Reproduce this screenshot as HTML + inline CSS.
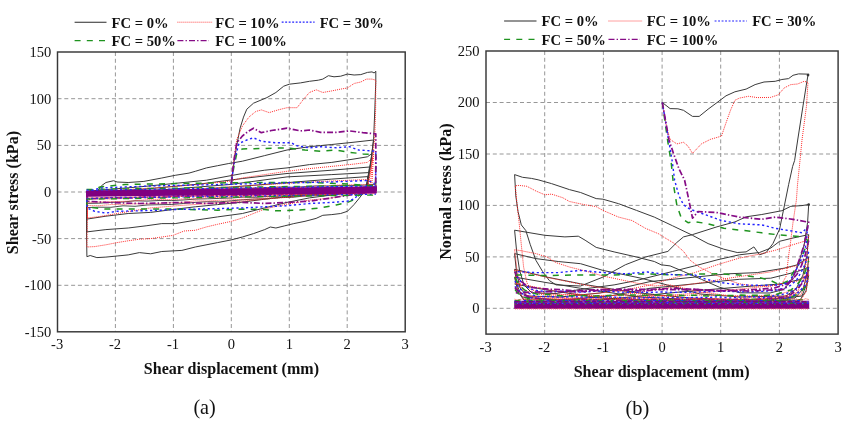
<!DOCTYPE html>
<html lang="en">
<head>
<meta charset="utf-8">
<title>Cyclic shear: shear stress and normal stress vs shear displacement</title>
<style>
html,body{margin:0;padding:0;background:#fff;}
body{width:852px;height:425px;overflow:hidden;}
svg{display:block;}
svg text{font-family:"Liberation Serif",serif;fill:#111;}
</style>
</head>
<body>
<svg width="852" height="425" viewBox="0 0 852 425">
<rect x="0" y="0" width="852" height="425" fill="#ffffff"/>
<g stroke="#979797" stroke-width="1" stroke-dasharray="4 2.8" fill="none"><line x1="115.4" y1="52.0" x2="115.4" y2="331.8"/><line x1="173.4" y1="52.0" x2="173.4" y2="331.8"/><line x1="231.3" y1="52.0" x2="231.3" y2="331.8"/><line x1="289.3" y1="52.0" x2="289.3" y2="331.8"/><line x1="347.2" y1="52.0" x2="347.2" y2="331.8"/><line x1="57.5" y1="98.7" x2="405.2" y2="98.7"/><line x1="57.5" y1="145.4" x2="405.2" y2="145.4"/><line x1="57.5" y1="192.0" x2="405.2" y2="192.0"/><line x1="57.5" y1="238.6" x2="405.2" y2="238.6"/><line x1="57.5" y1="285.3" x2="405.2" y2="285.3"/></g>
<polyline fill="none" stroke-linejoin="round" stroke="#3a3a3a" stroke-width="0.9" points="376.0,190.3 363.9,191.7 351.9,193.4 339.9,193.7 327.8,195.1 315.8,195.7 303.7,196.1 291.6,197.4 279.6,197.6 267.6,198.8 255.5,199.0 243.5,199.7 231.4,200.8 219.3,201.9 207.3,201.7 195.2,202.4 183.2,203.5 171.2,204.5 159.1,204.7 147.0,205.0 135.0,206.3 123.0,205.8 110.9,207.3 98.9,207.2 86.8,207.6 86.8,193.5 98.9,193.2 110.9,193.3 123.0,192.0 135.0,192.1 147.0,191.7 159.1,191.0 171.2,190.8 183.2,189.8 195.2,189.4 207.3,189.2 219.3,189.4 231.4,188.7 243.5,188.2 255.5,188.2 267.6,187.6 279.6,187.1 291.6,187.3 303.7,186.8 315.8,185.9 327.8,186.0 339.9,185.6 351.9,185.6 363.9,185.1 376.0,184.2 376.0,190.3"/>
<polyline fill="none" stroke-linejoin="round" stroke="#3a3a3a" stroke-width="0.9" points="376.0,191.1 363.9,191.2 351.9,192.3 339.9,193.3 327.8,193.2 315.8,194.2 303.7,194.2 291.6,195.5 279.6,196.2 267.6,196.4 255.5,197.3 243.5,197.1 231.4,198.0 219.3,198.4 207.3,198.8 195.2,199.1 183.2,200.0 171.2,200.6 159.1,200.5 147.0,201.1 135.0,200.8 123.0,202.0 110.9,202.4 98.9,203.2 86.8,203.4 86.8,193.7 98.9,193.4 110.9,193.4 123.0,192.2 135.0,192.4 147.0,191.7 159.1,191.3 171.2,191.0 183.2,191.5 195.2,190.4 207.3,190.3 219.3,190.1 231.4,190.4 243.5,189.2 255.5,189.3 267.6,189.1 279.6,189.2 291.6,188.9 303.7,188.6 315.8,187.6 327.8,187.5 339.9,187.2 351.9,187.5 363.9,187.3 376.0,186.1 376.0,191.1"/>
<polyline fill="none" stroke-linejoin="round" stroke="#ff2a2a" stroke-width="0.9" stroke-dasharray="1 1" points="376.0,190.1 363.9,191.6 351.9,192.6 339.9,193.7 327.8,194.6 315.8,194.9 303.7,195.3 291.6,196.5 279.6,197.1 267.6,197.9 255.5,199.0 243.5,199.3 231.4,199.7 219.3,200.3 207.3,201.0 195.2,200.8 183.2,202.3 171.2,202.7 159.1,203.4 147.0,203.8 135.0,203.8 123.0,204.4 110.9,204.5 98.9,205.7 86.8,205.5 86.8,193.5 98.9,193.0 110.9,192.5 123.0,192.2 135.0,191.4 147.0,191.0 159.1,190.7 171.2,190.3 183.2,190.2 195.2,189.4 207.3,190.0 219.3,189.3 231.4,188.4 243.5,188.1 255.5,187.9 267.6,187.5 279.6,186.9 291.6,187.4 303.7,187.2 315.8,186.2 327.8,185.9 339.9,185.0 351.9,184.7 363.9,184.7 376.0,184.2 376.0,190.1"/>
<polyline fill="none" stroke-linejoin="round" stroke="#ff2a2a" stroke-width="0.9" stroke-dasharray="1 1" points="376.0,190.9 363.9,191.1 351.9,191.6 339.9,193.3 327.8,193.4 315.8,193.5 303.7,194.5 291.6,194.3 279.6,195.4 267.6,196.4 255.5,196.7 243.5,197.0 231.4,196.9 219.3,197.4 207.3,197.6 195.2,198.8 183.2,198.9 171.2,199.6 159.1,199.5 147.0,199.7 135.0,200.8 123.0,201.4 110.9,201.7 98.9,202.0 86.8,202.4 86.8,194.3 98.9,193.2 110.9,193.2 123.0,192.6 135.0,191.9 147.0,191.6 159.1,191.5 171.2,191.2 183.2,191.4 195.2,191.4 207.3,190.5 219.3,190.8 231.4,190.5 243.5,190.2 255.5,189.2 267.6,188.7 279.6,188.4 291.6,188.1 303.7,187.8 315.8,188.1 327.8,188.1 339.9,187.8 351.9,187.0 363.9,187.0 376.0,186.9 376.0,190.9"/>
<polyline fill="none" stroke-linejoin="round" stroke="#ff2a2a" stroke-width="0.9" stroke-dasharray="1 1" points="376.0,190.0 363.9,191.4 351.9,192.2 339.9,192.4 327.8,192.8 315.8,192.9 303.7,192.9 291.6,194.0 279.6,193.8 267.6,194.7 255.5,195.2 243.5,194.9 231.4,195.2 219.3,196.2 207.3,196.2 195.2,195.9 183.2,196.2 171.2,196.5 159.1,197.7 147.0,197.9 135.0,197.4 123.0,198.5 110.9,199.0 98.9,198.9 86.8,198.8 86.8,194.1 98.9,193.2 110.9,192.7 123.0,193.6 135.0,192.9 147.0,192.4 159.1,192.7 171.2,191.8 183.2,192.0 195.2,191.7 207.3,190.7 219.3,190.5 231.4,190.3 243.5,190.0 255.5,190.1 267.6,189.5 279.6,189.4 291.6,188.8 303.7,189.5 315.8,188.6 327.8,188.4 339.9,188.3 351.9,188.5 363.9,187.7 376.0,188.0 376.0,190.0"/>
<polyline fill="none" stroke-linejoin="round" stroke="#2222ff" stroke-width="1.2" stroke-dasharray="2.2 2.6" points="376.0,190.5 363.9,191.1 351.9,191.5 339.9,191.3 327.8,192.2 315.8,192.2 303.7,192.3 291.6,193.6 279.6,193.1 267.6,193.8 255.5,194.4 243.5,194.5 231.4,194.5 219.3,195.0 207.3,195.4 195.2,195.9 183.2,195.4 171.2,196.2 159.1,196.1 147.0,196.4 135.0,197.3 123.0,197.2 110.9,197.5 98.9,198.0 86.8,198.5 86.8,193.9 98.9,193.7 110.9,193.2 123.0,192.8 135.0,192.7 147.0,192.1 159.1,191.8 171.2,191.5 183.2,191.7 195.2,191.1 207.3,191.0 219.3,190.8 231.4,189.7 243.5,189.7 255.5,189.9 267.6,189.5 279.6,188.3 291.6,188.0 303.7,188.1 315.8,187.4 327.8,187.3 339.9,186.8 351.9,187.3 363.9,187.1 376.0,187.0 376.0,190.5"/>
<polyline fill="none" stroke-linejoin="round" stroke="#860c86" stroke-width="1.5" stroke-dasharray="6 2.1 1.4 2.1" points="376.0,190.1 363.9,191.4 351.9,191.9 339.9,191.7 327.8,193.0 315.8,193.5 303.7,192.9 291.6,194.2 279.6,193.9 267.6,194.3 255.5,195.3 243.5,195.4 231.4,194.9 219.3,195.6 207.3,196.0 195.2,196.1 183.2,196.2 171.2,196.7 159.1,197.5 147.0,196.9 135.0,197.9 123.0,198.0 110.9,197.8 98.9,198.5 86.8,199.1 86.8,194.0 98.9,193.1 110.9,193.9 123.0,193.3 135.0,193.3 147.0,191.9 159.1,191.9 171.2,191.3 183.2,191.9 195.2,191.0 207.3,190.6 219.3,190.7 231.4,191.0 243.5,190.6 255.5,189.7 267.6,189.3 279.6,190.0 291.6,189.3 303.7,189.2 315.8,188.2 327.8,188.0 339.9,188.5 351.9,187.9 363.9,187.2 376.0,188.0 376.0,190.1"/>
<polyline fill="none" stroke-linejoin="round" stroke="#3a3a3a" stroke-width="1" points="363.0,193.4 358.6,199.0 354.0,204.6 347.4,211.3 340.7,213.5 331.8,214.6 322.8,215.3 316.1,218.4 305.0,221.3 293.8,223.6 284.8,225.8 275.9,228.0 270.3,227.0 264.7,229.6 253.5,233.6 242.4,237.0 231.2,239.9 217.6,242.6 195.3,247.0 181.9,250.4 161.8,251.5 150.6,253.8 139.4,252.6 128.2,254.9 117.1,256.0 105.9,257.1 96.9,257.6 90.2,255.5 86.9,256.7 86.5,230.0 86.5,192.0"/>
<polyline fill="none" stroke-linejoin="round" stroke="#3a3a3a" stroke-width="1" points="372.0,191.0 354.0,192.5 331.8,195.0 309.4,197.9 287.0,202.4 264.7,207.9 242.4,213.5 217.6,216.9 195.3,220.2 175.2,223.6 161.8,223.6 146.1,225.8 128.2,228.0 105.9,229.6 86.9,231.9 86.7,192.0"/>
<polyline fill="none" stroke-linejoin="round" stroke="#3a3a3a" stroke-width="1" points="372.0,191.0 340.0,193.0 300.0,195.5 270.0,198.5 240.0,202.4 217.6,204.6 195.3,206.8 172.9,209.5 150.6,212.4 128.2,213.5 105.9,216.2 86.9,219.1 86.9,192.0"/>
<polyline fill="none" stroke-linejoin="round" stroke="#3a3a3a" stroke-width="1" points="86.9,191.9 98.0,190.3 101.4,185.8 105.9,182.5 113.7,180.7 117.1,182.0 128.2,182.5 143.9,181.4 161.8,178.0 175.2,175.3 189.0,173.1 195.3,171.3 206.5,167.9 217.6,165.7 228.8,163.5 242.4,161.2 264.7,155.6 287.0,150.0 309.4,146.7 320.6,145.6 331.8,144.5 354.0,142.2 373.6,140.0 371.0,160.0 367.5,180.0 365.5,190.0"/>
<polyline fill="none" stroke-linejoin="round" stroke="#3a3a3a" stroke-width="1" points="86.9,192.0 105.9,189.6 139.4,186.9 172.9,183.6 206.5,180.2 242.4,173.5 264.7,170.2 287.0,167.9 309.4,164.6 331.8,162.4 354.0,159.0 367.4,156.8 372.2,153.4 370.0,168.0 367.6,181.0 366.0,190.0"/>
<polyline fill="none" stroke-linejoin="round" stroke="#3a3a3a" stroke-width="1" points="87.0,192.0 140.0,189.5 200.0,184.0 242.4,178.5 287.0,173.5 331.8,170.2 369.5,167.0 367.8,180.0 366.5,190.0"/>
<polyline fill="none" stroke-linejoin="round" stroke="#3a3a3a" stroke-width="1" points="87.0,192.5 160.0,190.0 230.0,184.5 287.0,176.9 331.8,174.6 368.6,172.6 367.5,182.0 366.5,190.0"/>
<polyline fill="none" stroke-linejoin="round" stroke="#3a3a3a" stroke-width="1" points="87.0,193.0 200.0,189.5 270.0,184.0 331.8,179.1 367.8,176.6 366.8,184.0 366.0,190.0"/>
<polyline fill="none" stroke-linejoin="round" stroke="#ff2a2a" stroke-width="1" stroke-dasharray="1 1" points="374.0,191.0 354.0,193.4 331.8,197.9 309.4,200.1 298.2,202.3 287.0,204.1 275.9,206.4 264.7,209.0 253.5,213.5 242.4,218.0 231.2,221.4 217.6,224.3 206.5,226.9 195.3,230.3 184.1,231.0 172.9,235.4 161.8,237.0 150.6,238.6 139.4,239.2 128.2,240.8 117.1,242.6 105.9,244.8 94.7,246.6 86.9,247.0 87.3,220.0 87.6,192.0"/>
<polyline fill="none" stroke-linejoin="round" stroke="#ff2a2a" stroke-width="1" stroke-dasharray="1 1" points="87.5,192.0 120.0,190.0 161.8,187.4 195.3,184.7 228.8,181.3 242.4,178.0 264.7,174.6 287.0,171.3 309.4,168.6 331.8,166.4 354.0,164.1 367.4,162.4 372.5,157.9 370.5,172.0 368.5,183.0 367.5,190.0"/>
<polyline fill="none" stroke-linejoin="round" stroke="#ff2a2a" stroke-width="1" stroke-dasharray="1 1" points="87.5,192.5 180.0,190.0 260.0,185.0 320.0,181.5 368.0,179.5 367.5,185.0 367.0,190.0"/>
<polyline fill="none" stroke-linejoin="round" stroke="#ff2a2a" stroke-width="1" stroke-dasharray="1 1" points="374.0,191.0 330.0,194.0 290.0,197.0 250.0,200.5 210.0,203.5 180.0,205.5 150.0,208.0 120.0,213.0 100.0,216.5 87.5,218.0 87.5,192.0"/>
<polyline fill="none" stroke-linejoin="round" stroke="#ff2a2a" stroke-width="1" stroke-dasharray="1 1" points="372.6,158.0 370.0,190.0"/>
<polyline fill="none" stroke-linejoin="round" stroke="#ff2a2a" stroke-width="1" stroke-dasharray="1 1" points="373.8,150.0 371.6,190.0"/>
<polyline fill="none" stroke-linejoin="round" stroke="#1f931f" stroke-width="1.5" stroke-dasharray="6 6.2" points="375.0,191.0 359.7,194.5 354.0,199.7 347.4,202.4 336.2,205.0 320.6,207.9 298.2,210.2 275.9,210.8 264.7,209.5 242.4,209.1 217.6,210.2 172.9,209.1 139.4,209.1 105.9,209.1 86.9,206.8 86.9,192.0"/>
<polyline fill="none" stroke-linejoin="round" stroke="#1f931f" stroke-width="1.5" stroke-dasharray="6 6.2" points="86.9,192.0 100.0,187.0 125.0,184.5 180.0,183.5 250.0,182.5 310.0,182.5 350.0,184.0 372.0,186.0 375.5,191.0"/>
<polyline fill="none" stroke-linejoin="round" stroke="#2222ff" stroke-width="1.4" stroke-dasharray="2.2 2.6" points="375.0,191.0 358.6,194.5 354.0,199.0 347.4,201.2 331.8,202.4 309.4,203.5 287.0,205.7 264.7,206.8 242.4,207.9 217.6,208.6 195.3,209.1 172.9,209.5 161.8,210.2 139.4,210.8 117.1,211.3 105.9,213.1 94.7,211.3 86.9,207.9 86.9,192.0"/>
<polyline fill="none" stroke-linejoin="round" stroke="#2222ff" stroke-width="1.4" stroke-dasharray="2.2 2.6" points="86.9,192.0 100.0,188.0 150.0,186.0 220.0,184.5 280.0,183.0 330.0,182.0 368.0,180.5 374.0,183.0 375.5,191.0"/>
<polyline fill="none" stroke-linejoin="round" stroke="#860c86" stroke-width="1.7" stroke-dasharray="6 2.1 1.4 2.1" points="375.0,191.0 354.0,194.5 343.0,196.1 331.8,197.9 309.4,201.2 287.0,202.4 264.7,203.5 242.4,202.4 206.5,203.5 184.1,202.4 161.8,203.0 139.4,203.5 105.9,202.4 86.9,201.2 86.9,192.0"/>
<polyline fill="none" stroke-linejoin="round" stroke="#3a3a3a" stroke-width="1" points="231.3,183.5 233.5,165.0 236.8,145.0 240.1,128.2 243.5,117.1 246.8,109.2 253.5,103.2 266.9,97.6 275.9,92.5 283.7,86.2 289.3,84.2 300.5,82.9 309.4,81.3 318.3,80.2 322.8,79.1 328.4,75.7 334.0,76.8 340.7,76.2 347.4,74.1 354.1,75.0 360.8,74.6 367.5,72.4 372.0,71.9 374.2,73.0 375.8,71.2 375.8,81.3 374.8,110.0 373.6,139.4 371.0,160.0 368.6,178.0 367.0,187.0 365.2,191.0 363.0,193.4"/>
<polyline fill="none" stroke-linejoin="round" stroke="#ff2a2a" stroke-width="1" stroke-dasharray="1 1" points="231.3,183.5 233.8,160.0 236.8,139.4 242.4,126.0 249.0,117.0 255.8,111.5 261.3,109.9 269.2,112.6 278.1,109.9 287.0,107.7 297.1,107.7 302.7,100.3 309.4,92.5 316.1,89.8 322.8,92.5 331.8,90.9 340.7,89.1 347.4,88.0 354.1,83.5 360.8,82.0 366.4,79.1 372.0,79.1 375.8,80.2 375.6,110.0 374.6,140.0 371.5,165.0 368.8,180.0 367.0,190.0"/>
<polyline fill="none" stroke-linejoin="round" stroke="#1f931f" stroke-width="1.5" stroke-dasharray="6 6.2" points="231.3,183.5 234.0,166.0 236.8,153.4 242.4,148.9 264.7,148.5 287.0,147.8 305.0,150.0 320.6,151.2 336.2,150.0 349.6,152.3 363.0,153.9 375.8,154.5 375.8,175.0 375.4,191.0"/>
<polyline fill="none" stroke-linejoin="round" stroke="#2222ff" stroke-width="1.4" stroke-dasharray="2.2 2.6" points="231.3,183.5 234.5,160.0 239.0,143.4 246.8,140.0 253.5,137.8 261.3,141.2 275.9,142.8 291.5,142.8 296.0,145.6 309.4,147.8 320.6,146.7 336.2,147.8 349.6,146.7 358.6,150.0 375.8,151.2 375.8,170.0 375.5,191.0"/>
<polyline fill="none" stroke-linejoin="round" stroke="#860c86" stroke-width="1.7" stroke-dasharray="6 2.1 1.4 2.1" points="231.3,183.5 234.0,160.0 236.8,142.8 242.4,136.0 247.9,131.6 253.5,128.2 261.3,132.7 271.4,130.5 287.0,128.2 300.5,130.9 309.4,130.0 320.6,132.3 336.2,132.3 349.6,130.9 363.0,132.7 375.8,133.8 375.8,160.0 375.6,191.0"/>
<polygon fill="#800080" points="86,190.6 376.6,186.4 376.6,193.2 86,196.8"/>
<polyline fill="none" stroke-linejoin="round" stroke="#1f931f" stroke-width="1.3" stroke-dasharray="6 6.2" points="86.5,189.4 376.0,185.2"/>
<polyline fill="none" stroke-linejoin="round" stroke="#2222ff" stroke-width="1.2" stroke-dasharray="2.2 2.6" points="86.5,190.2 376.0,186.0"/>
<polyline fill="none" stroke-linejoin="round" stroke="#ff2a2a" stroke-width="0.9" stroke-dasharray="1 1" points="86.5,197.8 376.0,193.6"/>
<polyline fill="none" stroke-linejoin="round" stroke="#2222ff" stroke-width="1.2" stroke-dasharray="2.2 2.6" points="86.5,198.4 376.0,194.2"/>
<polyline fill="none" stroke-linejoin="round" stroke="#1f931f" stroke-width="1.3" stroke-dasharray="6 6.2" points="86.5,199.2 376.0,195.0"/>
<polygon fill="#800080" points="86,191.6 376.6,187.4 376.6,193.2 86,196.2"/>
<rect x="57.5" y="52.0" width="347.7" height="279.8" fill="none" stroke="#383838" stroke-width="1.45"/>
<text x="51.3" y="57.0" font-size="14.5" text-anchor="end">150</text>
<text x="51.3" y="103.6" font-size="14.5" text-anchor="end">100</text>
<text x="51.3" y="150.3" font-size="14.5" text-anchor="end">50</text>
<text x="51.3" y="196.9" font-size="14.5" text-anchor="end">0</text>
<text x="51.3" y="243.5" font-size="14.5" text-anchor="end">-50</text>
<text x="51.3" y="290.2" font-size="14.5" text-anchor="end">-100</text>
<text x="51.3" y="336.8" font-size="14.5" text-anchor="end">-150</text>
<text x="57.1" y="349.2" font-size="14.5" text-anchor="middle">-3</text>
<text x="115.0" y="349.2" font-size="14.5" text-anchor="middle">-2</text>
<text x="173.0" y="349.2" font-size="14.5" text-anchor="middle">-1</text>
<text x="231.3" y="349.2" font-size="14.5" text-anchor="middle">0</text>
<text x="289.3" y="349.2" font-size="14.5" text-anchor="middle">1</text>
<text x="347.2" y="349.2" font-size="14.5" text-anchor="middle">2</text>
<text x="405.2" y="349.2" font-size="14.5" text-anchor="middle">3</text>
<text x="231.4" y="374.2" font-size="16.05" text-anchor="middle" font-weight="bold">Shear displacement (mm)</text>
<text x="204.6" y="413.9" font-size="20.2" text-anchor="middle">(a)</text>
<text font-size="16.05" font-weight="bold" text-anchor="middle" transform="translate(18.2,192.6) rotate(-90)">Shear stress (kPa)</text>
<line x1="74.6" y1="22.2" x2="106.5" y2="22.2" stroke="#2a2a2a" stroke-width="1.1"/>
<text x="111.6" y="27.5" font-size="14.6" text-anchor="start" font-weight="bold">FC = 0%</text>
<line x1="177.4" y1="22.2" x2="212.1" y2="22.2" stroke="#ff3030" stroke-width="0.9" stroke-dasharray="1 1"/>
<text x="215.3" y="27.5" font-size="14.6" text-anchor="start" font-weight="bold">FC = 10%</text>
<line x1="281.7" y1="22.2" x2="314.6" y2="22.2" stroke="#2222ff" stroke-width="1.2" stroke-dasharray="1.9 1.6"/>
<text x="319.7" y="27.5" font-size="14.6" text-anchor="start" font-weight="bold">FC = 30%</text>
<line x1="74.6" y1="40.6" x2="106.5" y2="40.6" stroke="#1f931f" stroke-width="1.4" stroke-dasharray="6 6.2"/>
<text x="111.6" y="45.9" font-size="14.6" text-anchor="start" font-weight="bold">FC = 50%</text>
<line x1="177.4" y1="40.6" x2="209.0" y2="40.6" stroke="#860c86" stroke-width="1.3" stroke-dasharray="6 2.1 1.4 2.1"/>
<text x="215.3" y="45.9" font-size="14.6" text-anchor="start" font-weight="bold">FC = 100%</text>
<g stroke="#979797" stroke-width="1" stroke-dasharray="4 2.8" fill="none"><line x1="544.7" y1="51.0" x2="544.7" y2="334.1"/><line x1="603.4" y1="51.0" x2="603.4" y2="334.1"/><line x1="662.1" y1="51.0" x2="662.1" y2="334.1"/><line x1="720.7" y1="51.0" x2="720.7" y2="334.1"/><line x1="779.4" y1="51.0" x2="779.4" y2="334.1"/><line x1="486.0" y1="102.5" x2="838.1" y2="102.5"/><line x1="486.0" y1="154.0" x2="838.1" y2="154.0"/><line x1="486.0" y1="205.4" x2="838.1" y2="205.4"/><line x1="486.0" y1="256.9" x2="838.1" y2="256.9"/><line x1="486.0" y1="308.3" x2="838.1" y2="308.3"/></g>
<polyline fill="none" stroke-linejoin="round" stroke="#3a3a3a" stroke-width="1" points="662.3,102.5 670.1,108.6 677.9,108.8 683.5,110.3 692.5,116.4 699.2,116.4 708.1,109.2 717.1,102.5 726.0,95.8 734.9,91.8 746.1,89.1 755.1,84.6 764.0,82.0 775.2,81.3 781.9,79.5 788.6,78.6 793.0,75.3 798.6,73.9 806.5,74.1 808.0,75.0 806.2,85.8 803.0,105.9 797.7,140.0 794.6,160.5 792.6,166.5 788.6,184.7 784.1,207.0 779.6,229.1 772.9,243.6 766.2,252.5 759.5,254.8 753.9,246.9 746.1,251.9 737.2,252.5 723.8,249.2 708.1,243.6 692.5,235.3 672.4,225.7 654.3,217.1 636.5,210.4 618.6,203.7 602.9,199.2 596.2,198.6 580.6,192.5 569.4,189.6 551.5,183.6 538.1,179.8 531.4,178.4 522.5,177.3 514.6,174.6 515.8,195.9 518.0,211.5 521.3,224.9 525.8,230.5 530.3,244.7 535.9,260.3 542.6,271.5 549.3,280.5 556.0,284.9 580.6,286.0 602.9,277.1 625.3,264.8 645.4,257.0 667.9,251.4 676.8,242.5 683.5,236.9 692.5,234.6 717.0,226.8 735.0,221.9 746.1,216.8 761.8,214.5 781.9,210.7 790.8,206.3 802.0,205.6 808.7,204.5 807.6,222.4 804.2,244.7 797.5,267.0 790.8,280.5 784.1,289.4 770.0,293.0 740.0,292.8 719.3,287.2 701.4,279.3 683.5,271.5 670.1,265.9 661.2,264.8 654.3,261.5 636.5,257.0 614.1,251.9 596.2,247.4 585.1,240.2 578.3,236.2 564.9,236.9 544.8,235.3 514.6,230.2"/>
<polyline fill="none" stroke-linejoin="round" stroke="#3a3a3a" stroke-width="1" points="514.6,230.2 516.5,250.0 519.5,270.0 524.0,285.0 532.0,293.0 556.0,293.5 580.6,289.4 614.1,284.9 636.5,280.5 650.0,277.1 672.4,271.5 694.7,265.9 717.0,259.9 739.4,254.8 759.5,252.5 770.7,248.1 779.6,241.3 793.0,238.0 808.7,234.6 807.0,255.0 803.0,275.0 796.0,289.0 786.0,296.0 740.0,297.0 700.0,294.0 658.8,282.7 640.9,278.2 625.3,274.9 602.9,270.4 580.6,263.7 558.2,261.5 535.9,258.6 514.6,253.6"/>
<polyline fill="none" stroke-linejoin="round" stroke="#3a3a3a" stroke-width="1" points="514.6,253.6 516.5,272.0 520.0,288.0 527.0,296.0 560.0,297.0 600.0,293.0 650.0,281.6 694.7,277.1 728.2,273.8 757.3,272.6 784.1,268.2 797.5,264.8 808.7,257.0 807.0,275.0 803.0,289.0 795.0,298.0 740.0,300.0 690.0,298.0 640.0,293.0 614.1,289.4 580.6,283.8 547.0,277.1 514.6,269.3"/>
<polyline fill="none" stroke-linejoin="round" stroke="#3a3a3a" stroke-width="1" points="514.6,269.3 517.0,285.0 522.0,297.0 560.0,300.0 610.0,296.0 650.0,288.3 694.7,283.8 739.4,279.3 770.7,278.2 784.1,274.9 797.5,271.5 808.7,267.0 807.0,283.0 802.0,296.0 760.0,301.0 700.0,300.0 640.0,297.0 580.6,288.3 547.0,282.7 514.6,277.1"/>
<polyline fill="none" stroke-linejoin="round" stroke="#3a3a3a" stroke-width="1" points="514.6,277.1 518.0,292.0 524.0,300.0 600.0,300.0 680.0,292.0 740.0,287.0 780.0,284.0 798.0,280.0 808.7,275.0 806.0,291.0 800.0,300.0 700.0,302.0 600.0,298.0 547.0,290.0 514.6,284.0"/>
<polyline fill="none" stroke-linejoin="round" stroke="#ff2a2a" stroke-width="1" stroke-dasharray="1 1" points="662.3,102.5 666.8,128.2 670.1,139.4 676.8,143.9 683.5,142.3 688.0,146.1 692.5,153.4 701.4,143.9 710.3,139.4 721.5,136.1 724.9,126.0 730.5,110.3 734.9,100.3 739.4,98.1 748.3,96.3 757.3,97.6 770.7,97.4 778.5,94.7 784.1,88.0 790.8,84.6 797.5,84.0 804.2,81.3 808.0,82.4 806.5,105.9 802.0,140.0 799.8,162.4 797.5,184.7 796.4,200.0 793.0,222.4 790.8,240.2 788.6,255.9 786.3,276.0 781.9,283.8 770.7,286.0 755.1,286.0 739.4,283.8 726.0,279.3 712.6,273.8 699.2,267.0 690.2,260.3 683.5,251.4 674.6,243.6 663.4,236.9 658.8,233.9 645.4,228.3 632.0,220.5 618.6,217.1 602.9,210.4 596.2,206.6 585.1,204.8 569.4,201.5 562.7,197.7 551.5,194.1 544.8,194.8 535.9,191.0 526.9,186.3 519.1,185.4 515.3,185.8 516.9,202.6 519.1,222.4 521.3,244.7 523.6,267.0 526.9,282.7 530.3,289.4 545.0,294.0 580.0,295.0 620.0,291.0 650.0,285.0 672.4,278.2 694.7,272.6 717.0,264.8 739.4,258.1 761.8,253.6 775.2,250.3 793.0,244.7 804.2,241.3 808.7,235.8 807.0,258.0 803.0,280.0 797.0,293.0 780.0,297.0 740.0,297.0 700.0,292.0 670.0,284.9 654.3,286.0 636.5,283.1 618.6,279.3 602.9,276.0 587.3,271.5 569.4,267.0 556.0,262.6 547.0,257.0 535.9,253.6 522.5,251.0 514.6,249.6"/>
<polyline fill="none" stroke-linejoin="round" stroke="#ff2a2a" stroke-width="1" stroke-dasharray="1 1" points="514.6,249.6 517.0,270.0 521.0,288.0 528.0,296.0 570.0,298.0 620.0,295.0 680.0,286.0 730.0,278.0 770.0,272.0 795.0,266.0 808.7,259.0 806.0,280.0 801.0,295.0 760.0,300.0 700.0,299.0 640.0,294.0 590.0,286.0 550.0,278.0 514.6,270.0"/>
<polyline fill="none" stroke-linejoin="round" stroke="#ff2a2a" stroke-width="1" stroke-dasharray="1 1" points="514.6,270.0 518.0,290.0 524.0,299.0 600.0,300.0 700.0,293.0 770.0,286.0 798.0,281.0 808.7,274.0 806.0,292.0 800.0,301.0 700.0,302.0 600.0,297.0 550.0,290.0 514.6,283.0"/>
<polyline fill="none" stroke-linejoin="round" stroke="#ff2a2a" stroke-width="0.9" stroke-dasharray="1 1" points="515.0,279.1 516.2,280.9 517.9,284.4 520.9,286.6 525.3,290.9 531.2,292.2 537.6,294.1 548.9,295.2 560.2,295.1 571.5,294.7 582.8,295.6 594.1,295.8 605.4,295.3 616.7,295.7 628.0,295.8 639.3,295.8 650.6,295.9 661.9,295.7 673.1,295.6 684.4,295.6 695.7,294.9 707.0,295.6 718.3,295.3 729.6,295.7 740.9,295.5 752.2,295.9 763.5,295.4 774.8,295.1 786.1,292.3 791.1,290.9 797.0,288.1 801.4,283.6 804.9,278.1 807.2,275.0 808.7,270.9"/>
<polyline fill="none" stroke-linejoin="round" stroke="#ff2a2a" stroke-width="0.9" stroke-dasharray="1 1" points="515.0,286.9 516.2,288.3 517.9,289.7 520.9,292.8 525.3,295.1 531.2,296.6 537.6,297.2 548.9,298.8 560.2,298.3 571.5,298.5 582.8,298.6 594.1,298.9 605.4,299.0 616.7,299.4 628.0,299.3 639.3,299.4 650.6,298.5 661.9,299.1 673.1,299.3 684.4,299.4 695.7,298.3 707.0,298.3 718.3,298.6 729.6,299.1 740.9,299.1 752.2,299.0 763.5,298.6 774.8,298.6 786.1,296.9 791.1,295.9 797.0,292.4 801.4,289.3 804.9,286.3 807.2,283.6 808.7,280.1"/>
<polyline fill="none" stroke-linejoin="round" stroke="#1f931f" stroke-width="1.5" stroke-dasharray="6 6.2" points="515.0,289.6 516.2,291.0 517.9,293.4 520.9,295.3 525.3,297.6 531.2,299.4 537.6,300.8 548.9,301.0 560.2,301.9 571.5,301.6 582.8,301.9 594.1,301.4 605.4,301.9 616.7,302.0 628.0,301.6 639.3,301.7 650.6,301.2 661.9,301.3 673.1,300.9 684.4,301.1 695.7,301.0 707.0,300.8 718.3,301.5 729.6,301.5 740.9,300.6 752.2,301.7 763.5,300.7 774.8,300.4 786.1,299.7 791.1,297.2 797.0,294.4 801.4,291.3 804.9,287.2 807.2,283.5 808.7,281.8"/>
<polyline fill="none" stroke-linejoin="round" stroke="#2222ff" stroke-width="1.4" stroke-dasharray="2.2 2.6" points="515.0,286.3 516.2,288.0 517.9,289.8 520.9,292.7 525.3,295.5 531.2,297.9 537.6,298.7 548.9,299.7 560.2,299.9 571.5,300.7 582.8,300.9 594.1,300.8 605.4,300.5 616.7,300.9 628.0,299.8 639.3,300.2 650.6,300.1 661.9,300.1 673.1,300.0 684.4,300.3 695.7,301.0 707.0,299.9 718.3,299.9 729.6,300.3 740.9,300.2 752.2,300.0 763.5,300.6 774.8,299.2 786.1,298.2 791.1,296.9 797.0,293.6 801.4,289.2 804.9,285.5 807.2,280.9 808.7,277.6"/>
<polyline fill="none" stroke-linejoin="round" stroke="#860c86" stroke-width="1.7" stroke-dasharray="6 2.1 1.4 2.1" points="515.0,287.5 516.2,289.2 517.9,290.9 520.9,293.1 525.3,295.4 531.2,297.4 537.6,298.4 548.9,299.8 560.2,299.9 571.5,299.8 582.8,299.2 594.1,299.8 605.4,299.4 616.7,300.2 628.0,300.1 639.3,299.8 650.6,299.3 661.9,299.2 673.1,299.3 684.4,299.8 695.7,299.5 707.0,299.5 718.3,299.5 729.6,300.0 740.9,298.9 752.2,299.8 763.5,298.5 774.8,297.8 786.1,296.8 791.1,294.2 797.0,289.5 801.4,284.2 804.9,278.9 807.2,273.8 808.7,269.9"/>
<polyline fill="none" stroke-linejoin="round" stroke="#2222ff" stroke-width="1.4" stroke-dasharray="2.2 2.6" points="515.0,280.7 516.2,283.7 517.9,285.7 520.9,289.6 525.3,292.3 531.2,294.1 537.6,296.6 548.9,296.5 560.2,297.2 571.5,296.7 582.8,297.0 594.1,297.7 605.4,296.7 616.7,297.3 628.0,298.0 639.3,298.0 650.6,297.3 661.9,297.4 673.1,297.6 684.4,297.8 695.7,297.5 707.0,297.6 718.3,296.8 729.6,298.0 740.9,296.9 752.2,296.7 763.5,297.5 774.8,295.6 786.1,293.7 791.1,291.3 797.0,288.0 801.4,282.8 804.9,276.8 807.2,270.6 808.7,267.2"/>
<polyline fill="none" stroke-linejoin="round" stroke="#1f931f" stroke-width="1.5" stroke-dasharray="6 6.2" points="515.0,277.7 516.2,279.8 517.9,282.9 520.9,286.9 525.3,290.5 531.2,292.2 537.6,294.4 548.9,294.5 560.2,295.7 571.5,295.8 582.8,295.5 594.1,295.9 605.4,295.7 616.7,294.9 628.0,295.0 639.3,295.1 650.6,295.3 661.9,294.9 673.1,294.9 684.4,295.4 695.7,295.2 707.0,296.1 718.3,295.2 729.6,295.6 740.9,295.1 752.2,295.2 763.5,295.4 774.8,294.9 786.1,291.1 791.1,289.9 797.0,284.7 801.4,279.1 804.9,272.3 807.2,265.7 808.7,260.8"/>
<polyline fill="none" stroke-linejoin="round" stroke="#2222ff" stroke-width="1.4" stroke-dasharray="2.2 2.6" points="515.0,272.1 516.2,274.1 517.9,277.7 520.9,281.5 525.3,285.7 531.2,289.1 537.6,290.7 548.9,291.8 560.2,291.1 571.5,291.8 582.8,292.2 594.1,291.2 605.4,291.1 616.7,291.9 628.0,292.3 639.3,292.2 650.6,292.4 661.9,292.0 673.1,292.4 684.4,292.2 695.7,292.1 707.0,291.7 718.3,291.3 729.6,291.4 740.9,291.9 752.2,291.8 763.5,291.3 774.8,290.5 786.1,287.6 791.1,285.2 797.0,279.4 801.4,271.6 804.9,264.7 807.2,257.1 808.7,251.6"/>
<polyline fill="none" stroke-linejoin="round" stroke="#860c86" stroke-width="1.7" stroke-dasharray="6 2.1 1.4 2.1" points="515.0,271.6 516.2,274.7 517.9,277.5 520.9,281.2 525.3,284.6 531.2,287.3 537.6,288.1 548.9,289.2 560.2,289.5 571.5,290.7 582.8,290.7 594.1,289.8 605.4,289.5 616.7,290.1 628.0,290.0 639.3,290.8 650.6,290.3 661.9,289.5 673.1,289.6 684.4,289.6 695.7,289.4 707.0,290.4 718.3,290.6 729.6,290.6 740.9,290.0 752.2,289.6 763.5,288.9 774.8,287.9 786.1,284.3 791.1,280.7 797.0,274.2 801.4,265.6 804.9,256.3 807.2,246.4 808.7,240.5"/>
<polyline fill="none" stroke-linejoin="round" stroke="#1f931f" stroke-width="1.5" stroke-dasharray="6 6.2" points="662.3,102.5 667.9,142.2 671.2,162.4 673.5,184.7 676.8,204.8 681.3,218.2 688.0,222.7 694.7,221.6 708.1,223.8 723.8,228.3 743.9,230.5 761.8,232.8 779.6,235.0 800.0,236.5 807.6,240.2 804.2,251.4 797.5,264.8 788.6,280.5 779.6,284.9 770.7,280.5 757.3,277.1 739.4,274.9 717.0,273.8 694.7,274.2 672.4,274.9 647.6,273.8 614.1,274.9 580.6,274.9 547.0,275.5 515.8,274.9"/>
<polyline fill="none" stroke-linejoin="round" stroke="#2222ff" stroke-width="1.4" stroke-dasharray="2.2 2.6" points="662.3,102.5 669.0,142.2 672.4,162.4 674.6,180.2 679.0,195.9 683.5,204.8 690.2,209.3 705.9,214.9 721.5,220.5 739.4,223.8 761.8,224.9 775.2,228.3 788.6,230.5 802.0,232.8 807.6,227.2 806.0,245.0 802.0,258.0 795.3,271.5 788.6,282.7 779.6,284.9 761.8,285.4 739.4,284.9 721.5,282.7 705.9,279.3 694.7,274.9 676.8,274.9 661.2,273.8 647.6,272.0 625.3,273.8 602.9,272.6 580.6,270.4 558.2,272.6 535.9,272.6 515.8,271.5"/>
<polyline fill="none" stroke-linejoin="round" stroke="#860c86" stroke-width="1.7" stroke-dasharray="6 2.1 1.4 2.1" points="662.3,102.5 669.0,140.0 673.5,153.4 679.0,169.0 684.6,180.2 688.0,195.9 692.5,218.2 698.0,211.5 717.0,212.6 739.4,217.1 761.8,219.3 775.2,217.1 793.0,219.3 808.7,222.2 804.2,244.7 799.8,258.1 793.0,278.2 784.1,289.4 750.0,291.0 717.0,290.5 694.7,289.4 672.4,288.3 647.6,289.4 614.1,289.4 580.6,291.6 547.0,291.6 515.8,292.8"/>
<polygon fill="#800080" points="514.2,302.6 809.2,302.6 809.2,308.8 514.2,308.8"/>
<polygon fill="#800080" fill-opacity="0.55" points="514.2,300.4 809.2,300.4 809.2,303 514.2,303"/>
<polyline fill="none" stroke-linejoin="round" stroke="#1f931f" stroke-width="1.3" stroke-dasharray="6 6.2" points="514.6,301.0 517.6,300.5 520.6,299.8 523.6,299.5 526.6,299.7 529.6,300.5 532.6,300.6 535.6,299.4 538.6,299.3 541.6,300.2 544.6,300.4 547.6,300.0 550.6,299.6 553.6,300.4 556.6,299.2 559.6,299.8 562.6,300.1 565.6,301.1 568.6,300.5 571.6,301.0 574.6,300.2 577.6,299.7 580.6,299.7 583.6,301.1 586.6,300.6 589.6,299.8 592.6,299.2 595.6,300.2 598.6,300.5 601.6,300.0 604.6,299.7 607.6,300.5 610.6,301.1 613.6,299.7 616.6,299.3 619.6,299.9 622.6,300.0 625.6,300.6 628.6,299.6 631.6,300.8 634.6,300.7 637.6,300.2 640.6,299.6 643.6,301.1 646.6,299.8 649.6,300.8 652.6,299.7 655.6,299.6 658.6,300.7 661.6,299.8 664.6,301.1 667.6,300.2 670.6,299.6 673.6,299.6 676.6,300.0 679.6,300.5 682.6,301.1 685.6,299.5 688.6,300.0 691.6,299.6 694.6,301.1 697.6,299.5 700.6,299.3 703.6,299.3 706.6,300.0 709.6,301.0 712.6,301.0 715.6,300.7 718.6,301.2 721.6,301.1 724.6,299.9 727.6,299.6 730.6,301.1 733.6,300.7 736.6,299.3 739.6,300.5 742.6,300.0 745.6,299.9 748.6,299.9 751.6,299.5 754.6,299.2 757.6,299.8 760.6,299.9 763.6,301.1 766.6,299.4 769.6,301.1 772.6,299.6 775.6,299.9 778.6,300.8 781.6,300.8 784.6,300.1 787.6,299.3 790.6,300.1 793.6,299.9 796.6,301.0 799.6,299.6 802.6,299.9 805.6,301.0 808.6,299.3"/>
<polyline fill="none" stroke-linejoin="round" stroke="#2222ff" stroke-width="1.2" stroke-dasharray="2.2 2.6" points="514.6,301.1 517.6,301.9 520.6,301.8 523.6,300.4 526.6,300.4 529.6,300.4 532.6,302.1 535.6,300.8 538.6,301.8 541.6,302.1 544.6,301.0 547.6,300.8 550.6,302.2 553.6,301.5 556.6,300.8 559.6,301.7 562.6,300.9 565.6,300.9 568.6,300.3 571.6,301.8 574.6,302.1 577.6,301.6 580.6,302.2 583.6,300.3 586.6,300.8 589.6,301.3 592.6,302.2 595.6,302.2 598.6,301.1 601.6,300.8 604.6,301.2 607.6,301.3 610.6,302.2 613.6,300.7 616.6,301.9 619.6,301.8 622.6,301.9 625.6,301.8 628.6,301.5 631.6,301.0 634.6,300.9 637.6,301.0 640.6,301.9 643.6,300.5 646.6,300.7 649.6,301.8 652.6,300.8 655.6,300.4 658.6,300.4 661.6,301.4 664.6,301.0 667.6,302.3 670.6,302.1 673.6,302.3 676.6,300.8 679.6,300.5 682.6,300.5 685.6,301.3 688.6,301.7 691.6,301.2 694.6,300.8 697.6,301.1 700.6,301.5 703.6,301.6 706.6,301.8 709.6,302.0 712.6,301.6 715.6,300.5 718.6,302.0 721.6,300.9 724.6,301.4 727.6,301.0 730.6,301.8 733.6,300.7 736.6,300.8 739.6,300.8 742.6,300.6 745.6,302.1 748.6,301.5 751.6,301.0 754.6,301.1 757.6,302.3 760.6,301.3 763.6,300.8 766.6,301.9 769.6,301.6 772.6,302.3 775.6,300.5 778.6,301.2 781.6,301.9 784.6,302.0 787.6,302.1 790.6,300.4 793.6,300.9 796.6,300.5 799.6,300.7 802.6,302.2 805.6,301.5 808.6,302.2"/>
<polyline fill="none" stroke-linejoin="round" stroke="#ff2a2a" stroke-width="0.9" stroke-dasharray="1 1" points="514.6,299.2 517.6,300.0 520.6,299.3 523.6,299.0 526.6,299.8 529.6,300.1 532.6,298.8 535.6,299.6 538.6,299.6 541.6,298.9 544.6,299.2 547.6,298.8 550.6,298.9 553.6,299.0 556.6,299.6 559.6,299.6 562.6,298.9 565.6,298.6 568.6,299.1 571.6,299.7 574.6,298.9 577.6,299.1 580.6,298.9 583.6,299.9 586.6,299.5 589.6,298.7 592.6,298.8 595.6,299.2 598.6,299.5 601.6,299.6 604.6,298.7 607.6,298.9 610.6,299.7 613.6,299.3 616.6,299.1 619.6,299.1 622.6,300.1 625.6,299.1 628.6,299.5 631.6,299.2 634.6,299.3 637.6,300.0 640.6,300.2 643.6,299.2 646.6,298.9 649.6,299.8 652.6,298.9 655.6,298.6 658.6,300.0 661.6,299.3 664.6,299.9 667.6,299.2 670.6,300.0 673.6,299.3 676.6,298.9 679.6,298.6 682.6,299.5 685.6,299.6 688.6,300.1 691.6,298.7 694.6,299.6 697.6,299.2 700.6,299.4 703.6,298.8 706.6,299.1 709.6,299.4 712.6,300.1 715.6,298.8 718.6,299.4 721.6,299.9 724.6,300.1 727.6,298.9 730.6,298.8 733.6,300.1 736.6,300.2 739.6,299.4 742.6,298.7 745.6,300.1 748.6,299.2 751.6,300.0 754.6,299.6 757.6,299.9 760.6,298.9 763.6,299.9 766.6,299.0 769.6,299.2 772.6,300.0 775.6,299.9 778.6,298.9 781.6,298.9 784.6,299.2 787.6,299.4 790.6,299.2 793.6,298.8 796.6,299.0 799.6,299.8 802.6,300.0 805.6,298.7 808.6,299.5"/>
<polyline fill="none" stroke-linejoin="round" stroke="#1f931f" stroke-width="1.3" stroke-dasharray="6 6.2" points="514.6,302.7 518.6,301.4 522.6,302.8 526.6,301.5 530.6,302.4 534.6,302.3 538.6,302.4 542.6,301.9 546.6,302.1 550.6,302.3 554.6,302.1 558.6,302.5 562.6,302.1 566.6,302.1 570.6,301.3 574.6,302.4 578.6,302.2 582.6,301.7 586.6,302.7 590.6,302.7 594.6,302.1 598.6,301.6 602.6,302.2 606.6,301.5 610.6,301.5 614.6,302.1 618.6,301.5 622.6,302.1 626.6,302.2 630.6,301.4 634.6,302.4 638.6,301.4 642.6,302.6 646.6,302.7 650.6,302.2 654.6,301.4 658.6,302.2 662.6,302.0 666.6,303.0 670.6,301.5 674.6,302.8 678.6,303.1 682.6,302.6 686.6,302.8 690.6,301.6 694.6,303.1 698.6,302.2 702.6,303.0 706.6,302.9 710.6,301.6 714.6,302.7 718.6,303.0 722.6,301.4 726.6,301.9 730.6,302.7 734.6,301.6 738.6,302.9 742.6,301.8 746.6,302.8 750.6,301.6 754.6,302.2 758.6,303.0 762.6,301.7 766.6,301.8 770.6,302.2 774.6,301.9 778.6,301.4 782.6,301.6 786.6,301.6 790.6,303.0 794.6,302.5 798.6,302.9 802.6,301.6 806.6,302.7"/>
<polyline fill="none" stroke-linejoin="round" stroke="#2222ff" stroke-width="1.2" stroke-dasharray="2.2 2.6" points="514.6,302.4 518.1,303.0 521.6,303.2 525.1,302.8 528.6,303.6 532.1,303.1 535.6,303.1 539.1,303.6 542.6,302.4 546.1,303.8 549.6,303.2 553.1,302.8 556.6,303.5 560.1,302.6 563.6,303.8 567.1,303.1 570.6,302.8 574.1,303.4 577.6,302.9 581.1,302.5 584.6,303.4 588.1,302.3 591.6,303.5 595.1,302.6 598.6,303.2 602.1,303.8 605.6,303.1 609.1,303.3 612.6,302.7 616.1,302.2 619.6,302.3 623.1,302.4 626.6,303.2 630.1,302.9 633.6,303.0 637.1,303.6 640.6,302.4 644.1,302.6 647.6,303.2 651.1,302.2 654.6,302.2 658.1,302.8 661.6,302.4 665.1,302.8 668.6,302.6 672.1,303.1 675.6,303.1 679.1,302.5 682.6,303.2 686.1,303.0 689.6,302.4 693.1,303.7 696.6,302.6 700.1,302.4 703.6,302.4 707.1,303.2 710.6,303.6 714.1,303.5 717.6,302.8 721.1,302.6 724.6,302.2 728.1,303.2 731.6,303.1 735.1,302.8 738.6,303.2 742.1,302.9 745.6,303.7 749.1,303.4 752.6,302.6 756.1,303.6 759.6,302.3 763.1,303.1 766.6,302.8 770.1,302.6 773.6,302.3 777.1,303.4 780.6,302.2 784.1,303.1 787.6,303.7 791.1,302.4 794.6,302.5 798.1,303.2 801.6,303.0 805.1,303.2 808.6,303.5"/>
<polyline fill="none" stroke="#800080" stroke-width="1.6" stroke-dasharray="5 2" points="514.6,301.8 809,301.8"/>
<polyline fill="none" stroke="#2a9a2a" stroke-width="1" stroke-dasharray="1.5 5.5" points="515,304.2 809,304.2"/>
<polyline fill="none" stroke="#4a4aff" stroke-width="1" stroke-dasharray="1.2 6.3" points="517,303.4 809,303.4"/>
<polyline fill="none" stroke="#ff4040" stroke-width="0.8" stroke-dasharray="1 1" points="515,308.9 809,308.9"/>
<circle cx="808" cy="75" r="1.4" fill="#333"/><circle cx="808.7" cy="204.5" r="1.3" fill="#333"/>
<rect x="486.0" y="51.0" width="352.1" height="283.1" fill="none" stroke="#383838" stroke-width="1.45"/>
<text x="479.6" y="56.0" font-size="14.5" text-anchor="end">250</text>
<text x="479.6" y="107.4" font-size="14.5" text-anchor="end">200</text>
<text x="479.6" y="158.9" font-size="14.5" text-anchor="end">150</text>
<text x="479.6" y="210.3" font-size="14.5" text-anchor="end">100</text>
<text x="479.6" y="261.8" font-size="14.5" text-anchor="end">50</text>
<text x="479.6" y="313.2" font-size="14.5" text-anchor="end">0</text>
<text x="485.6" y="351.6" font-size="14.5" text-anchor="middle">-3</text>
<text x="544.3" y="351.6" font-size="14.5" text-anchor="middle">-2</text>
<text x="603.0" y="351.6" font-size="14.5" text-anchor="middle">-1</text>
<text x="662.1" y="351.6" font-size="14.5" text-anchor="middle">0</text>
<text x="720.7" y="351.6" font-size="14.5" text-anchor="middle">1</text>
<text x="779.4" y="351.6" font-size="14.5" text-anchor="middle">2</text>
<text x="838.1" y="351.6" font-size="14.5" text-anchor="middle">3</text>
<text x="661.6" y="377.3" font-size="16.1" text-anchor="middle" font-weight="bold">Shear displacement (mm)</text>
<text x="637.3" y="414.9" font-size="20.4" text-anchor="middle">(b)</text>
<text font-size="16.1" font-weight="bold" text-anchor="middle" transform="translate(451.2,191.6) rotate(-90)">Normal stress (kPa)</text>
<line x1="504.1" y1="21.0" x2="536.5" y2="21.0" stroke="#2a2a2a" stroke-width="1.1"/>
<text x="541.6" y="26.3" font-size="14.6" text-anchor="start" font-weight="bold">FC = 0%</text>
<line x1="608.5" y1="21.0" x2="642.6" y2="21.0" stroke="#ff3030" stroke-width="0.9" stroke-dasharray="1 1"/>
<text x="646.7" y="26.3" font-size="14.6" text-anchor="start" font-weight="bold">FC = 10%</text>
<line x1="714.6" y1="21.0" x2="746.8" y2="21.0" stroke="#2222ff" stroke-width="1.2" stroke-dasharray="1.9 1.6"/>
<text x="752.2" y="26.3" font-size="14.6" text-anchor="start" font-weight="bold">FC = 30%</text>
<line x1="504.1" y1="39.4" x2="536.5" y2="39.4" stroke="#1f931f" stroke-width="1.4" stroke-dasharray="6 6.2"/>
<text x="541.6" y="44.7" font-size="14.6" text-anchor="start" font-weight="bold">FC = 50%</text>
<line x1="608.5" y1="39.4" x2="640.0" y2="39.4" stroke="#860c86" stroke-width="1.3" stroke-dasharray="6 2.1 1.4 2.1"/>
<text x="646.7" y="44.7" font-size="14.6" text-anchor="start" font-weight="bold">FC = 100%</text>
</svg>
</body>
</html>
